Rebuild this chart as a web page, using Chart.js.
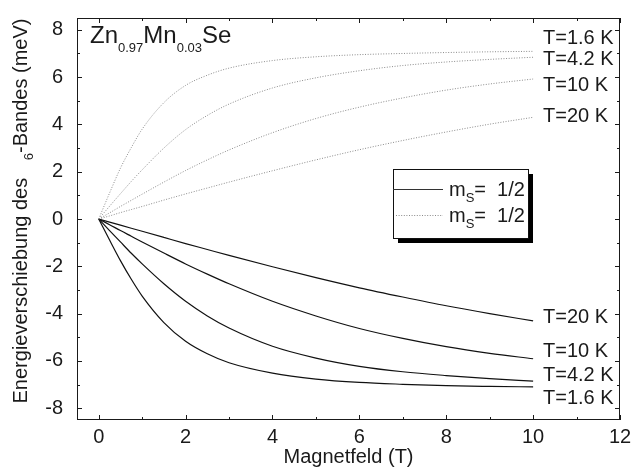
<!DOCTYPE html>
<html lang="de">
<head>
<meta charset="UTF-8">
<title>Zn0.97Mn0.03Se - Energieverschiebung</title>
<script src="https://cdn.jsdelivr.net/npm/chart.js"></script>
<style>
  body { margin: 0; background: #fff; }
  canvas { display: block; }
</style>
</head>
<body>
<canvas id="shiftChart" width="632" height="468"></canvas>
<script>
  // Magnetfeld (T)
  const field = [0, 0.25, 0.5, 0.75, 1, 1.5, 2, 2.5, 3, 4, 5, 6, 7, 8, 9, 10];

  // obere Zweige (gepunktet), Verschiebung in meV
  const up16 = [0, 1.10, 2.15, 3.02, 3.80, 4.92, 5.65, 6.08, 6.38, 6.70, 6.86, 6.95, 7.00, 7.04, 7.07, 7.09];
  const up42 = [0, 0.54, 1.07, 1.59, 2.08, 3.00, 3.78, 4.38, 4.86, 5.54, 5.97, 6.27, 6.49, 6.64, 6.75, 6.84];
  const up10 = [0, 0.26, 0.53, 0.79, 1.05, 1.56, 2.05, 2.50, 2.92, 3.65, 4.25, 4.73, 5.12, 5.45, 5.71, 5.92];
  const up20 = [0, 0.13, 0.27, 0.40, 0.53, 0.80, 1.06, 1.31, 1.56, 2.04, 2.50, 2.93, 3.32, 3.68, 4.01, 4.30];

  // untere Zweige (durchgezogen)
  const lo16 = [0, -0.89, -1.76, -2.55, -3.26, -4.38, -5.17, -5.70, -6.08, -6.52, -6.77, -6.91, -6.99, -7.05, -7.08, -7.10];
  const lo42 = [0, -0.49, -0.97, -1.45, -1.90, -2.74, -3.48, -4.10, -4.61, -5.38, -5.88, -6.23, -6.46, -6.62, -6.75, -6.86];
  const lo10 = [0, -0.24, -0.49, -0.73, -0.97, -1.44, -1.90, -2.33, -2.74, -3.48, -4.10, -4.63, -5.05, -5.40, -5.68, -5.91];
  const lo20 = [0, -0.13, -0.26, -0.39, -0.52, -0.78, -1.04, -1.29, -1.54, -2.02, -2.48, -2.91, -3.30, -3.67, -4.00, -4.31];

  const tempLabels = ['T=1.6 K', 'T=4.2 K', 'T=10 K', 'T=20 K'];
  const xTickValues = [0, 2, 4, 6, 8, 10, 12];
  const yTickValues = [-8, -6, -4, -2, 0, 2, 4, 6, 8];

  const FONT = "'Liberation Sans', Arial, sans-serif";
  const INK = '#1a1a1a';

  function pts(ys) {
    return field.map((b, i) => ({ x: b, y: ys[i] }));
  }

  function solid(ys) {
    return { data: pts(ys), borderColor: '#111', borderWidth: 1.2, pointRadius: 0, fill: false,
             cubicInterpolationMode: 'monotone' };
  }
  function dotted(ys) {
    return { data: pts(ys), borderColor: '#8a8a8a', borderWidth: 1, borderDash: [1, 1.6], pointRadius: 0,
             fill: false, cubicInterpolationMode: 'monotone' };
  }

  // Text mit tiefgestellten Teilen, läuft ab (x, y) entlang der Grundlinie
  function drawRuns(ctx, x, y, runs, size, subSize, subDrop) {
    for (const r of runs) {
      ctx.font = (r.sub ? subSize : size) + 'px ' + FONT;
      ctx.fillText(r.t, x, y + (r.sub ? subDrop : 0));
      x += ctx.measureText(r.t).width + (r.gap || 0);
    }
    return x;
  }
  function runsWidth(ctx, runs, size, subSize) {
    let w = 0;
    for (const r of runs) {
      ctx.font = (r.sub ? subSize : size) + 'px ' + FONT;
      w += ctx.measureText(r.t).width + (r.gap || 0);
    }
    return w;
  }

  const decorations = {
    id: 'decorations',
    afterDraw(chart) {
      const ctx = chart.ctx;
      const { left, right, top, bottom } = chart.chartArea;
      const xs = chart.scales.x, ys = chart.scales.y;
      ctx.save();

      // Rahmen und nach innen zeigende Striche
      ctx.strokeStyle = INK;
      ctx.lineWidth = 1;
      ctx.strokeRect(left + 0.5, top + 0.5, right - left - 1, bottom - top - 1);
      ctx.beginPath();
      for (let v = 0; v <= 12; v++) {
        const px = Math.round(xs.getPixelForValue(v)) + 0.5;
        const len = v % 2 ? 3 : 5;
        ctx.moveTo(px, bottom); ctx.lineTo(px, bottom - len);
        ctx.moveTo(px, top); ctx.lineTo(px, top + len);
      }
      for (let v = -8; v <= 8; v++) {
        const py = Math.round(ys.getPixelForValue(v)) + 0.5;
        const len = v % 2 ? 3 : 5;
        ctx.moveTo(left, py); ctx.lineTo(left + len, py);
        ctx.moveTo(right, py); ctx.lineTo(right - len, py);
      }
      ctx.stroke();

      ctx.fillStyle = INK;
      ctx.textBaseline = 'alphabetic';
      ctx.textAlign = 'left';

      // Probenbezeichnung
      drawRuns(ctx, 90, 43, [
        { t: 'Zn' }, { t: '0.97', sub: true }, { t: 'Mn' }, { t: '0.03', sub: true }, { t: 'Se' }
      ], 24, 13, 9);

      // Temperaturen am rechten Rand
      ctx.font = '20px ' + FONT;
      const upperAt = [7.71, 6.79, 5.71, 4.39];
      const lowerAt = [-7.51, -6.54, -5.56, -4.10];
      tempLabels.forEach((t, i) => {
        ctx.fillText(t, 543, ys.getPixelForValue(upperAt[i]) + 7);
        ctx.fillText(t, 543, ys.getPixelForValue(lowerAt[i]) + 7);
      });

      // Legende mit Schatten
      const bx = 393, by = 169, bw = 135, bh = 69;
      ctx.fillStyle = '#000';
      ctx.fillRect(bx + 5, by + 5, bw, bh);
      ctx.fillStyle = '#fff';
      ctx.fillRect(bx, by, bw, bh);
      ctx.strokeStyle = '#111';
      ctx.strokeRect(bx + 0.5, by + 0.5, bw, bh);
      ctx.beginPath();
      ctx.strokeStyle = '#333';
      ctx.lineWidth = 1.2;
      ctx.moveTo(bx, 189.5); ctx.lineTo(bx + 50, 189.5);
      ctx.stroke();
      ctx.beginPath();
      ctx.strokeStyle = '#8a8a8a';
      ctx.lineWidth = 1;
      ctx.setLineDash([1, 1.6]);
      ctx.moveTo(bx + 3, 215.5); ctx.lineTo(bx + 50, 215.5);
      ctx.stroke();
      ctx.setLineDash([]);
      ctx.fillStyle = INK;
      const legRuns = [{ t: 'm' }, { t: 'S', sub: true }, { t: '=  1/2' }];
      drawRuns(ctx, 449, 196, legRuns, 20, 13, 6);
      drawRuns(ctx, 449, 222, legRuns, 20, 13, 6);

      // Achsentitel
      ctx.font = '20px ' + FONT;
      ctx.textAlign = 'center';
      ctx.fillText('Magnetfeld (T)', (left + right) / 2, 463);

      ctx.textAlign = 'left';
      const yRuns = [
        { t: 'Energieverschiebung des ', gap: 12 },
        { t: '6', sub: true },
        { t: '-Bandes (meV)' }
      ];
      const w = runsWidth(ctx, yRuns, 20, 13);
      ctx.translate(27, 211);
      ctx.rotate(-Math.PI / 2);
      drawRuns(ctx, -w / 2, 0, yRuns, 20, 13, 6);

      ctx.restore();
    }
  };

  const ctx = document.getElementById('shiftChart').getContext('2d');
  new Chart(ctx, {
    type: 'line',
    data: {
      datasets: [
        dotted(up16), dotted(up42), dotted(up10), dotted(up20),
        solid(lo16), solid(lo42), solid(lo10), solid(lo20)
      ]
    },
    options: {
      responsive: false,
      animation: false,
      devicePixelRatio: 1,
      layout: { padding: { top: 12, right: 12, left: 0, bottom: 0 } },
      plugins: { legend: { display: false }, tooltip: { enabled: false } },
      scales: {
        x: {
          type: 'linear', min: -0.5, max: 12,
          grid: { display: false }, border: { display: false },
          afterBuildTicks: s => { s.ticks = xTickValues.map(v => ({ value: v })); },
          afterFit: s => { s.height = 48; },
          ticks: { font: { family: FONT, size: 20 }, color: INK, padding: -3, maxRotation: 0 }
        },
        y: {
          type: 'linear', min: -8.5, max: 8.5,
          grid: { display: false }, border: { display: false },
          afterBuildTicks: s => { s.ticks = yTickValues.map(v => ({ value: v })); },
          afterFit: s => { s.width = 77; },
          ticks: { font: { family: FONT, size: 20 }, color: INK, padding: 6 }
        }
      }
    },
    plugins: [decorations]
  });
</script>
</body>
</html>
